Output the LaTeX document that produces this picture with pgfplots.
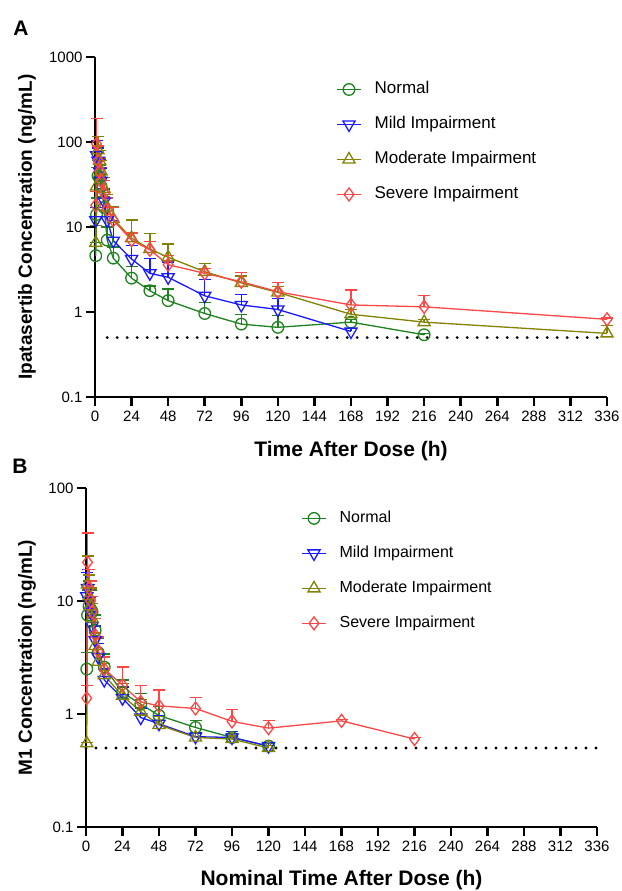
\documentclass[border=0pt]{standalone}
\usepackage{fontspec}
\setmainfont{Liberation Sans}
\usepackage{pgfplots}
\usepackage{pgfplotstable}
\pgfplotsset{compat=1.18}

\definecolor{cnorm}{RGB}{30,130,30}
\definecolor{cmild}{RGB}{25,25,255}
\definecolor{cmod}{RGB}{130,130,0}
\definecolor{csev}{RGB}{255,70,70}

% panel A: ipatasertib (t, mean, +SD)
\pgfplotstableread{
t v e
0.5 4.6 2.0
1 14 8
2 40 20
3 38 15
4 30 12
6 17 6
8 7.0 3
12 4.3 1.5
24 2.5 0.9
36 1.78 0.25
48 1.36 0.5
72 0.96 0.33
96 0.72 0.22
120 0.66 0.25
168 0.76 0.06
216 0.54 0.02
}\aNorm
\pgfplotstableread{
t v e
0.5 12 5
1 70 35
2 60 25
3 45 18
4 35 14
6 20 8
8 12 5
12 6.9 5
24 4.2 1.9
36 2.85 1.4
48 2.56 1.3
72 1.55 0.85
96 1.21 0.4
120 1.07 0.38
168 0.59 0.05
}\aMild
\pgfplotstableread{
t v e
0.5 6.5 4
1 30 20
2 80 35
3 60 20
4 45 15
6 28 10
8 17 7
12 12.4 5
24 7.4 4.7
36 5.5 2.9
48 4.4 1.9
72 2.98 0.76
96 2.2 0.45
120 1.7 0.3
168 0.94 0.12
216 0.76 0.05
336 0.56 0.14
}\aMod
\pgfplotstableread{
t v e
0.5 18 8
1 95 95
2 60 30
3 45 20
4 35 15
6 25 10
8 16 6
12 12 5
24 7.0 1.5
36 5.4 1.4
48 3.6 1.0
72 2.85 0.4
96 2.27 0.63
120 1.73 0.5
168 1.21 0.6
216 1.15 0.4
336 0.82 0.03
}\aSev

% panel B: M1
\pgfplotstableread{
t v e
0.5 2.5 1.0
1 7.5 5
2 9 6
3 8.5 4
4 8 3
6 5.5 2
8 3.5 1.2
12 2.6 0.8
24 1.55 0.45
36 1.22 0.3
48 0.97 0.2
72 0.76 0.11
96 0.62 0.05
120 0.52 0.03
}\bNorm
\pgfplotstableread{
t v e
0.5 11 7
1 13 6
2 10 4
3 8 3
4 6 2
6 4.5 1.5
8 3.2 1
12 2.0 0.5
24 1.38 0.35
36 0.93 0.2
48 0.82 0.15
72 0.63 0.05
96 0.62 0.08
120 0.52 0.04
}\bMild
\pgfplotstableread{
t v e
0.5 0.55 0.01
1 14 11
2 11 6
3 9 4
4 7 2.5
6 4.0 1.2
8 2.9 0.8
12 2.2 0.6
24 1.45 0.4
36 1.05 0.3
48 0.8 0.15
72 0.62 0.05
96 0.6 0.04
120 0.5 0.03
}\bMod
\pgfplotstableread{
t v e
0.5 1.38 0.4
1 22 18
2 13 6
3 10 5
4 8 3
6 5 2
8 3.6 1.2
12 2.5 0.7
24 1.8 0.8
36 1.28 0.5
48 1.18 0.45
72 1.12 0.28
96 0.86 0.24
120 0.75 0.12
168 0.87 0.02
216 0.60 0.02
}\bSev

\pgfplotsset{
  legend image code/.code={\draw[mark repeat=2,mark phase=2,#1] plot coordinates {(0pt,0pt)(12pt,0pt)(24pt,0pt)};},
  ser/.style={color=#1, line width=1.3pt, mark options={solid, line width=1.3pt},
    error bars/y dir=plus, error bars/y explicit,
    error bars/error bar style={line width=1.3pt, color=#1},
    error bars/error mark options={rotate=90, mark size=6pt, line width=1.3pt, color=#1}},
  sN/.style={ser=cnorm, mark=o, mark size=5.8pt},
  sM/.style={ser=cmild, mark=triangle, mark size=7pt, mark options={solid, line width=1.3pt, rotate=180}},
  sO/.style={ser=cmod, mark=triangle, mark size=7pt},
  sS/.style={ser=csev, mark=diamond, mark size=6.5pt},
}

\begin{document}
\begin{tikzpicture}
\useasboundingbox (0,0) rectangle (621pt,891pt);
\node[font=\bfseries\fontsize{21}{24}\selectfont] at (21pt,863pt) {A};
\node[font=\bfseries\fontsize{21}{24}\selectfont] at (20pt,425pt) {B};

\begin{axis}[at={(95pt,494pt)}, anchor=south west,
  scale only axis, width=512pt, height=340pt,
  ymode=log, ymin=0.1, ymax=1000,
  xmin=0, xmax=336,
  xtick={0,24,48,72,96,120,144,168,192,216,240,264,288,312,336},
  xticklabels={0,24,48,72,96,120,144,168,192,216,240,264,288,312,336},
  ytick={0.1,1,10,100,1000}, yticklabels={0.1,1,10,100,1000},
  yminorticks=false,
  axis x line*=bottom, axis y line*=left,
  axis line style={line width=2.6pt},
  tick style={line width=2.6pt, black},
  major tick length=9pt, tick align=outside,
  ticklabel style={font=\fontsize{15}{17}\selectfont},
  xticklabel style={yshift=-2pt},
  x label style={font=\bfseries\fontsize{21}{24}\selectfont, at={(axis description cs:0.5,-0.159)}, anchor=center},
  y label style={font=\bfseries\fontsize{19}{22}\selectfont, at={(axis description cs:-0.133,0.5)}, anchor=center},
  clip=false,
  xlabel={Time After Dose (h)},
  ylabel={Ipatasertib Concentration (ng/mL)},
  legend cell align=left,
  legend style={draw=none, fill=none, inner sep=0pt, row sep=18pt, column sep=12pt,
    nodes={inner sep=1pt, text height=12pt, text depth=3pt},
    at={(0.471,0.93)}, anchor=north west, font=\fontsize{17}{19}\selectfont},
]
\addplot[black, line width=3.2pt, dash pattern=on 0pt off 10pt, line cap=round, forget plot] coordinates {(8,0.5)(336,0.5)};
\addplot[sN] table[x=t, y=v, y error=e] {\aNorm};
\addlegendentry{Normal}
\addplot[sM] table[x=t, y=v, y error=e] {\aMild};
\addlegendentry{Mild Impairment}
\addplot[sO] table[x=t, y=v, y error=e] {\aMod};
\addlegendentry{Moderate Impairment}
\addplot[sS] table[x=t, y=v, y error=e] {\aSev};
\addlegendentry{Severe Impairment}
\end{axis}

\begin{axis}[at={(86pt,64pt)}, anchor=south west,
  scale only axis, width=511pt, height=339pt,
  ymode=log, ymin=0.1, ymax=100,
  xmin=0, xmax=336,
  xtick={0,24,48,72,96,120,144,168,192,216,240,264,288,312,336},
  xticklabels={0,24,48,72,96,120,144,168,192,216,240,264,288,312,336},
  ytick={0.1,1,10,100}, yticklabels={0.1,1,10,100},
  yminorticks=false,
  axis x line*=bottom, axis y line*=left,
  axis line style={line width=2.6pt},
  tick style={line width=2.6pt, black},
  major tick length=9pt, tick align=outside,
  ticklabel style={font=\fontsize{15}{17}\selectfont},
  xticklabel style={yshift=-2pt},
  x label style={font=\bfseries\fontsize{21}{24}\selectfont, at={(axis description cs:0.5,-0.157)}, anchor=center},
  y label style={font=\bfseries\fontsize{19}{22}\selectfont, at={(axis description cs:-0.1155,0.5)}, anchor=center},
  clip=false,
  xlabel={Nominal Time After Dose (h)},
  ylabel={M1 Concentration (ng/mL)},
  legend cell align=left,
  legend style={draw=none, fill=none, inner sep=0pt, row sep=18pt, column sep=12pt,
    nodes={inner sep=1pt, text height=12pt, text depth=3pt},
    at={(0.421,0.936)}, anchor=north west, font=\fontsize{16}{18}\selectfont},
]
\addplot[black, line width=3.2pt, dash pattern=on 0pt off 10pt, line cap=round, forget plot] coordinates {(0,0.5)(336,0.5)};
\addplot[sN] table[x=t, y=v, y error=e] {\bNorm};
\addlegendentry{Normal}
\addplot[sM] table[x=t, y=v, y error=e] {\bMild};
\addlegendentry{Mild Impairment}
\addplot[sO] table[x=t, y=v, y error=e] {\bMod};
\addlegendentry{Moderate Impairment}
\addplot[sS] table[x=t, y=v, y error=e] {\bSev};
\addlegendentry{Severe Impairment}
\end{axis}
\end{tikzpicture}
\end{document}
